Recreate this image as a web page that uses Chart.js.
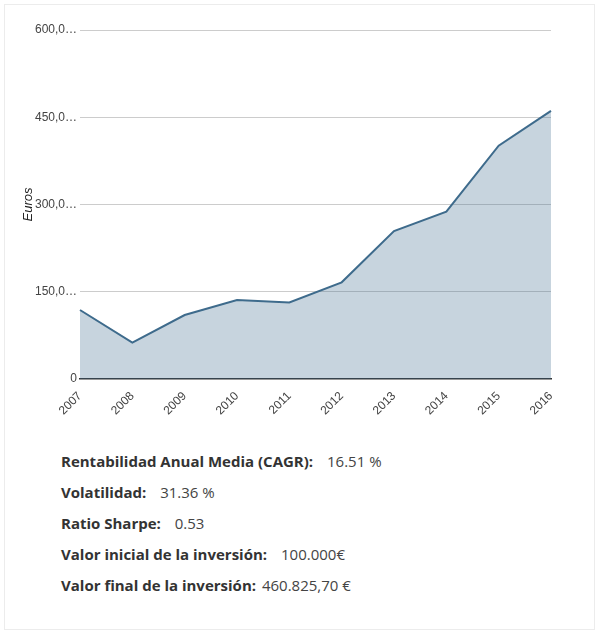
<!DOCTYPE html>
<html>
<head>
<meta charset="utf-8">
<script src="https://cdn.jsdelivr.net/npm/chart.js@4/dist/chart.umd.min.js"></script>
<style>
  html, body { margin: 0; padding: 0; background: #fff; }
  .box {
    position: absolute; left: 4px; top: 4px; width: 591px; height: 626px;
    border: 1px solid #ececec; box-sizing: border-box;
  }
  .chart-wrap { position: absolute; left: 0; top: 0; width: 601px; height: 421px; }
  .stats {
    position: absolute; left: 61px; top: 449px;
    font-family: "Open Sans", sans-serif; font-size: 15px; color: #444;
  }
  .stats div { height: 31px; line-height: 24px; }
  .stats b { font-weight: 700; color: #333; margin-right: 10px; }
  .stats b.tight { margin-right: 2px; }
</style>
</head>
<body>
<div class="box"></div>
<div class="chart-wrap"><canvas id="chart"></canvas></div>
<div class="stats">
  <div><b>Rentabilidad Anual Media (CAGR):</b> 16.51 %</div>
  <div><b>Volatilidad:</b> 31.36 %</div>
  <div><b>Ratio Sharpe:</b> 0.53</div>
  <div><b>Valor inicial de la inversión:</b> 100.000€</div>
  <div><b class="tight">Valor final de la inversión:</b> 460.825,70 €</div>
</div>
<script>
const years = ['2007', '2008', '2009', '2010', '2011', '2012', '2013', '2014', '2015', '2016'];
const euros = [118600, 62400, 110000, 135800, 131500, 166200, 254400, 287800, 401000, 460826];
const yTicks = [0, 150000, 300000, 450000, 600000];

const lineColor = '#3e6b8c';

// google-charts style truncated labels: "600,000" -> "600,0…"
function shortLabel(v) {
  const s = v.toLocaleString('en-US');
  return s.length > 5 ? s.slice(0, 5) + '…' : s;
}

new Chart(document.getElementById('chart'), {
  type: 'line',
  data: {
    labels: years,
    datasets: [{
      data: euros,
      borderColor: lineColor,
      borderWidth: 2,
      backgroundColor: 'rgba(62,107,140,0.29)',
      fill: 'origin',
      pointRadius: 0,
      tension: 0
    }]
  },
  options: {
    responsive: true,
    maintainAspectRatio: false,
    animation: false,
    layout: { padding: { left: 20, right: 50, top: 30, bottom: 0 } },
    plugins: { legend: { display: false }, tooltip: { enabled: false } },
    scales: {
      x: {
        offset: false,
        grid: { display: false },
        border: { color: '#333', width: 1.5 },
        ticks: {
          color: '#444', font: { family: 'Liberation Sans', size: 12 },
          maxRotation: 45, minRotation: 45, padding: 2
        },
        afterFit: (scale) => { scale.height = 42; }
      },
      y: {
        min: 0,
        max: 600000,
        afterBuildTicks: (scale) => { scale.ticks = yTicks.map(v => ({ value: v })); },
        grid: {
          color: (ctx) => ctx.tick && ctx.tick.value === 0 ? 'rgba(0,0,0,0)' : '#cccccc',
          drawTicks: false
        },
        border: { display: false },
        ticks: {
          color: '#444', font: { family: 'Liberation Sans', size: 12 }, padding: 3,
          callback: (v) => shortLabel(v)
        },
        title: {
          display: true, text: 'Euros', color: '#222',
          font: { family: 'Liberation Sans', size: 13, style: 'italic' },
          padding: { top: 1, bottom: 0 }
        },
        afterFit: (scale) => { scale.width = 60; }
      }
    }
  }
});
</script>
</body>
</html>
